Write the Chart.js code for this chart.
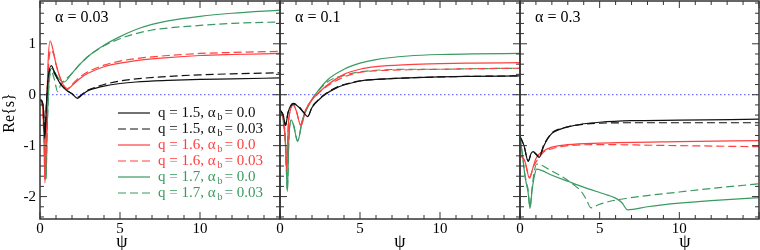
<!DOCTYPE html>
<html>
<head>
<meta charset="utf-8">
<script src="https://cdn.jsdelivr.net/npm/chart.js@4.4.0/dist/chart.umd.min.js"></script>
<style>
  html, body { margin: 0; padding: 0; background: #fff; }
  #wrap { position: relative; width: 760px; height: 250px; }
  #wrap canvas { position: absolute; left: 0; top: 0; width: 760px; height: 250px; }
</style>
</head>
<body>
<div id="wrap">
  <canvas id="p1" width="760" height="250"></canvas>
  <canvas id="p2" width="760" height="250"></canvas>
  <canvas id="p3" width="760" height="250"></canvas>
</div>
<script>
// series as [psi, Re{s}] pairs
// alpha = 0.03
const a1_q15_b0  = [[0,-0.09],[0.15,-0.15],[0.22,-0.3],[0.3,-0.86],[0.4,-0.2],[0.5,0.3],[0.7,0.57],[0.9,0.45],[1.2,0.25],[1.6,0.1],[2.0,0.02],[2.33,-0.07],[2.6,-0.01],[3,0.08],[3.5,0.13],[4,0.17],[5,0.22],[6,0.25],[8,0.28],[10,0.3],[12,0.31],[15,0.33]]
const a1_q15_b3  = [[0,-0.09],[0.15,-0.15],[0.22,-0.3],[0.3,-0.8],[0.4,-0.2],[0.5,0.3],[0.7,0.5],[0.9,0.42],[1.2,0.25],[1.6,0.1],[2.0,0.02],[2.35,-0.05],[2.6,0.0],[3,0.09],[3.5,0.15],[4,0.2],[5,0.27],[6,0.31],[8,0.36],[10,0.39],[12,0.41],[15,0.43]]
const a1_q16_b0  = [[0,-0.1],[0.15,-0.2],[0.25,-0.9],[0.31,-1.73],[0.4,-0.5],[0.5,0.6],[0.63,1.06],[0.8,0.9],[1.0,0.6],[1.3,0.3],[1.7,0.1],[2.0,0.18],[2.5,0.32],[3,0.42],[4,0.55],[5,0.62],[6,0.67],[8,0.73],[10,0.77],[12,0.79],[15,0.81]]
const a1_q16_b3  = [[0,-0.1],[0.15,-0.2],[0.25,-0.9],[0.32,-1.7],[0.42,-0.4],[0.52,0.5],[0.68,0.88],[0.85,0.8],[1.0,0.6],[1.3,0.3],[1.7,0.12],[2.0,0.2],[2.5,0.35],[3,0.45],[4,0.58],[5,0.66],[6,0.71],[8,0.77],[10,0.81],[12,0.83],[15,0.85]]
const a1_q17_b0  = [[0,-0.1],[0.15,-0.2],[0.28,-0.8],[0.38,-1.65],[0.45,-0.6],[0.55,0.2],[0.72,0.52],[0.9,0.45],[1.2,0.3],[1.5,0.25],[2,0.42],[2.5,0.6],[3,0.75],[4,0.97],[5,1.14],[6,1.28],[7,1.38],[8,1.45],[10,1.54],[12,1.6],[15,1.66]]
const a1_q17_b3  = [[0,-0.1],[0.15,-0.2],[0.28,-0.8],[0.36,-1.68],[0.45,-0.7],[0.55,0.15],[0.72,0.45],[0.9,0.3],[1.1,0.06],[1.3,0.2],[1.6,0.3],[2,0.42],[2.5,0.6],[3,0.75],[4,0.96],[5,1.1],[6,1.2],[7,1.27],[8,1.31],[10,1.36],[12,1.4],[15,1.43]]
// alpha = 0.1
const a2_q15_b0  = [[0,-0.3],[0.2,-0.4],[0.35,-0.6],[0.5,-0.35],[0.83,-0.18],[1.2,-0.25],[1.5,-0.36],[1.73,-0.43],[2,-0.25],[2.5,-0.08],[2.8,0],[3.5,0.13],[4,0.19],[5,0.27],[6,0.3],[8,0.33],[10,0.35],[12,0.36],[15,0.37]]
const a2_q15_b3  = [[0,-0.3],[0.2,-0.4],[0.35,-0.6],[0.5,-0.35],[0.83,-0.17],[1.2,-0.24],[1.5,-0.35],[1.75,-0.42],[2,-0.24],[2.5,-0.07],[2.8,0.01],[3.5,0.14],[4,0.2],[5,0.27],[6,0.3],[8,0.33],[10,0.35],[12,0.36],[15,0.37]]
const a2_q16_b0  = [[0,-0.3],[0.2,-0.45],[0.32,-0.8],[0.42,-1.48],[0.52,-0.6],[0.65,-0.3],[0.83,-0.2],[1.0,-0.3],[1.31,-0.61],[1.6,-0.3],[2,-0.1],[2.3,0],[3,0.2],[4,0.4],[5,0.5],[6,0.55],[8,0.59],[10,0.61],[12,0.62],[15,0.63]]
const a2_q16_b3  = [[0,-0.3],[0.2,-0.45],[0.32,-0.8],[0.42,-1.45],[0.52,-0.6],[0.65,-0.3],[0.83,-0.2],[1.0,-0.3],[1.31,-0.6],[1.6,-0.3],[2,-0.1],[2.3,0],[3,0.18],[4,0.35],[5,0.44],[6,0.47],[8,0.49],[10,0.5],[12,0.51],[15,0.52]]
const a2_q17_b0  = [[0,-0.3],[0.2,-0.5],[0.35,-1.0],[0.46,-1.9],[0.55,-0.9],[0.7,-0.5],[0.85,-0.6],[1.1,-0.92],[1.4,-0.5],[1.8,-0.2],[2.2,0],[3,0.3],[4,0.5],[5,0.62],[6,0.69],[8,0.76],[10,0.79],[12,0.8],[15,0.81]]
const a2_q17_b3  = [[0,-0.3],[0.2,-0.5],[0.35,-1.0],[0.46,-1.88],[0.55,-0.9],[0.7,-0.5],[0.85,-0.6],[1.1,-0.9],[1.4,-0.5],[1.8,-0.2],[2.2,0],[3,0.26],[4,0.38],[5,0.45],[6,0.48],[8,0.5],[10,0.5],[12,0.51],[15,0.52]]
// alpha = 0.3
const a3_q15_b0  = [[0,-0.82],[0.25,-1.0],[0.52,-1.31],[0.7,-1.15],[0.83,-1.12],[1.0,-1.17],[1.2,-1.23],[1.5,-1.0],[2,-0.76],[2.5,-0.68],[3,-0.63],[4,-0.57],[5,-0.54],[7,-0.51],[10,-0.5],[15,-0.48]]
const a3_q15_b3  = [[0,-0.82],[0.25,-1.0],[0.52,-1.3],[0.7,-1.15],[0.83,-1.12],[1.0,-1.16],[1.2,-1.21],[1.5,-0.98],[2,-0.75],[2.5,-0.67],[3,-0.63],[4,-0.58],[5,-0.56],[7,-0.55],[10,-0.55],[15,-0.55]]
const a3_q16_b0  = [[0,-1.18],[0.3,-1.3],[0.6,-1.64],[0.8,-1.45],[1.0,-1.25],[1.5,-1.1],[2,-1.03],[3,-0.98],[5,-0.95],[10,-0.92],[15,-0.9]]
const a3_q16_b3  = [[0,-1.18],[0.3,-1.3],[0.6,-1.62],[0.85,-1.4],[1.05,-1.3],[1.5,-1.12],[2,-1.06],[3,-1.0],[5,-0.98],[10,-1.0],[15,-1.02]]
const a3_q17_b0  = [[0,-0.82],[0.2,-1.3],[0.31,-1.6],[0.42,-1.78],[0.5,-1.9],[0.63,-2.23],[0.75,-1.9],[0.9,-1.6],[1.04,-1.46],[2,-1.58],[3,-1.7],[3.85,-1.8],[5,-1.92],[5.5,-1.97],[6,-2.03],[6.4,-2.12],[6.75,-2.26],[8,-2.2],[10,-2.13],[12,-2.08],[15,-2.02]]
const a3_q17_b3  = [[0,-0.82],[0.2,-1.3],[0.3,-1.55],[0.42,-1.75],[0.5,-1.85],[0.63,-2.2],[0.75,-1.85],[0.9,-1.5],[1.04,-1.36],[2,-1.5],[2.8,-1.64],[3.5,-1.8],[3.85,-1.9],[4.17,-2.06],[4.45,-2.22],[5,-2.15],[6,-2.07],[8,-1.98],[10,-1.91],[12,-1.84],[15,-1.75]]

const panelTitles = ['\u03b1 = 0.03', '\u03b1 = 0.1', '\u03b1 = 0.3']
const legendQ = ['1.5', '1.5', '1.6', '1.6', '1.7', '1.7']
const legendB = ['0.0', '0.03', '0.0', '0.03', '0.0', '0.03']
const xTickLabels = [0, 5, 10]
const yTickLabels = [1, 0, -1, -2]

const BLACK = '#111111', RED = '#ff4040', GREEN = '#3a9a62'
const colors = [BLACK, BLACK, RED, RED, GREEN, GREEN]
const FONT = '"Liberation Serif", "DejaVu Serif", serif'

function makeDatasets(series) {
  const sets = series.map((s, i) => ({
    data: s.map(p => ({ x: p[0], y: p[1] })),
    borderColor: colors[i],
    borderWidth: 1.2,
    borderDash: i % 2 ? [8, 4] : [],
    pointRadius: 0,
    cubicInterpolationMode: 'monotone'
  }))
  sets.push({
    data: [{ x: 0, y: 0 }, { x: 15, y: 0 }],
    borderColor: '#6f6fff',
    borderWidth: 1.2,
    borderDash: [1.5, 2.5],
    pointRadius: 0
  })
  return sets
}

function line(ctx, x1, y1, x2, y2) {
  ctx.beginPath(); ctx.moveTo(x1, y1); ctx.lineTo(x2, y2); ctx.stroke()
}

const framePlugin = {
  id: 'frame',
  afterDraw(chart, args, opts) {
    const { ctx, chartArea: a, scales: { x, y } } = chart
    ctx.save()
    ctx.strokeStyle = '#333'
    ctx.lineWidth = 1
    for (let v = 0; v <= 15; v++) {
      const px = x.getPixelForValue(v)
      const len = v % 5 === 0 ? 7 : 4
      line(ctx, px, a.bottom, px, a.bottom - len)
      line(ctx, px, a.top, px, a.top + len)
    }
    for (let k = -12; k <= 9; k++) {
      const py = y.getPixelForValue(k * 0.2)
      const len = k % 5 === 0 ? 7 : 4
      line(ctx, a.left, py, a.left + len, py)
      line(ctx, a.right, py, a.right - len, py)
    }
    ctx.lineWidth = 1.5
    ctx.strokeRect(a.left, a.top, a.right - a.left, a.bottom - a.top)

    ctx.fillStyle = '#000'
    ctx.font = '15px ' + FONT
    ctx.textAlign = 'center'
    ctx.textBaseline = 'top'
    xTickLabels.forEach(v => ctx.fillText(String(v), x.getPixelForValue(v), a.bottom + 3))
    if (opts.yLabels) {
      ctx.textAlign = 'right'
      ctx.textBaseline = 'middle'
      yTickLabels.forEach(v => ctx.fillText(String(v), a.left - 4, y.getPixelForValue(v)))
      ctx.save()
      ctx.translate(10, 113)
      ctx.rotate(-Math.PI / 2)
      ctx.textAlign = 'center'
      ctx.font = '16px ' + FONT
      ctx.fillText('Re{s}', 0, 0)
      ctx.restore()
    }
    ctx.font = '18px ' + FONT
    ctx.textAlign = 'center'
    ctx.textBaseline = 'middle'
    ctx.fillText('\u03c8', opts.psiX, 242)

    ctx.font = '16px ' + FONT
    ctx.textAlign = 'left'
    ctx.fillText(opts.title, a.left + 15, 18)

    if (opts.legend) {
      for (let i = 0; i < 6; i++) {
        const ry = 113 + 16 * i
        ctx.strokeStyle = colors[i]
        ctx.lineWidth = 1.2
        ctx.setLineDash(i % 2 ? [8, 4] : [])
        line(ctx, 118, ry, 150, ry)
        ctx.setLineDash([])
        ctx.fillStyle = colors[i]
        ctx.font = '15px ' + FONT
        let tx = 158
        const t1 = 'q = ' + legendQ[i] + ', \u03b1'
        ctx.fillText(t1, tx, ry)
        tx += ctx.measureText(t1).width + 2
        ctx.font = '10px ' + FONT
        ctx.fillText('b', tx, ry + 4)
        tx += ctx.measureText('b').width + 2
        ctx.font = '15px ' + FONT
        ctx.fillText('= ' + legendB[i], tx, ry)
      }
    }
    ctx.restore()
  }
}

const panels = [
  { id: 'p1', series: [a1_q15_b0, a1_q15_b3, a1_q16_b0, a1_q16_b3, a1_q17_b0, a1_q17_b3], left: 40, right: 480, psiX: 122, legend: true, yLabels: true },
  { id: 'p2', series: [a2_q15_b0, a2_q15_b3, a2_q16_b0, a2_q16_b3, a2_q17_b0, a2_q17_b3], left: 280, right: 240, psiX: 400 },
  { id: 'p3', series: [a3_q15_b0, a3_q15_b3, a3_q16_b0, a3_q16_b3, a3_q17_b0, a3_q17_b3], left: 520, right: 1, psiX: 685 }
]

panels.forEach((p, i) => {
  new Chart(document.getElementById(p.id), {
    type: 'line',
    data: { datasets: makeDatasets(p.series) },
    options: {
      responsive: false,
      animation: false,
      devicePixelRatio: 1,
      layout: { padding: { left: p.left, right: p.right, top: 1, bottom: 31 } },
      scales: {
        x: { type: 'linear', min: 0, max: 15, display: false },
        y: { type: 'linear', min: -2.44, max: 1.84, display: false }
      },
      plugins: {
        legend: { display: false },
        tooltip: { enabled: false },
        frame: { title: panelTitles[i], psiX: p.psiX, legend: !!p.legend, yLabels: !!p.yLabels }
      }
    },
    plugins: [framePlugin]
  })
})
</script>
</body>
</html>
